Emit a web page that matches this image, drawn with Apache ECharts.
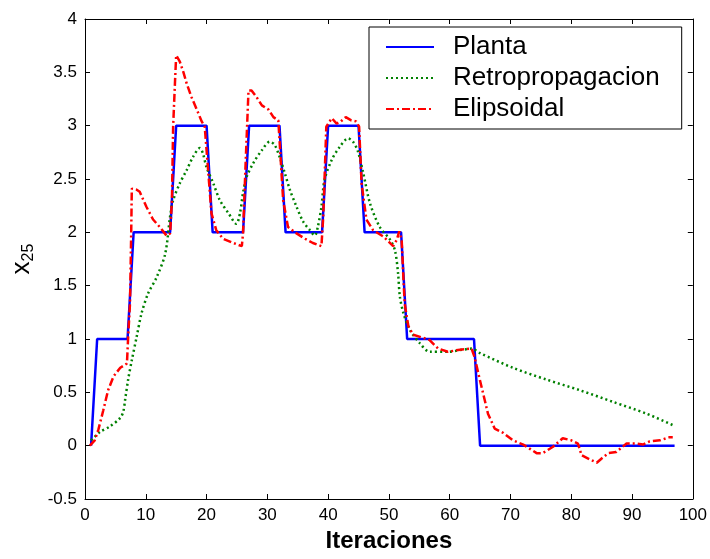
<!DOCTYPE html>
<html>
<head>
<meta charset="utf-8">
<script src="https://cdn.jsdelivr.net/npm/echarts@6/dist/echarts.min.js"></script>
<style>
  html, body { margin: 0; padding: 0; background: #fff; }
  #chart { width: 710px; height: 559px; }
</style>
</head>
<body>
<div id="chart"></div>
<script>
// x25 frente a iteraciones
const xTicks = [0, 10, 20, 30, 40, 50, 60, 70, 80, 90, 100];
const yTicks = [-0.5, 0, 0.5, 1, 1.5, 2, 2.5, 3, 3.5, 4];

// Planta: escalones [iteracion, valor]
const planta = [
  [1, 0], [2, 1], [7, 1], [8, 2], [14, 2], [15, 3], [20, 3], [21, 2],
  [26, 2], [27, 3], [32, 3], [33, 2], [39, 2], [40, 3], [45, 3], [46, 2],
  [52, 2], [53, 1], [64, 1], [65, 0], [97, 0]
];

// Retropropagacion
const retro = [
  [1.0, 0.05], [2.5, 0.13], [4.1, 0.18], [5.8, 0.26], [6.3, 0.32], [6.6, 0.43],
  [7.1, 0.62], [7.7, 0.80], [8.5, 1.02], [9.3, 1.24], [10.4, 1.43], [11.8, 1.58],
  [13.2, 1.80], [14.0, 2.15], [14.5, 2.30], [15.6, 2.46], [16.7, 2.58], [17.8, 2.71],
  [18.9, 2.79], [19.4, 2.74], [20.0, 2.61], [21.1, 2.46], [22.2, 2.30], [23.6, 2.18],
  [24.9, 2.08], [25.5, 2.18], [26.0, 2.37], [26.6, 2.52], [27.7, 2.65], [29.1, 2.77],
  [30.4, 2.85], [31.2, 2.82], [32.0, 2.71], [32.9, 2.55], [33.7, 2.40], [34.8, 2.24],
  [35.9, 2.10], [37.0, 2.02], [37.8, 1.97], [38.3, 2.05], [38.9, 2.24], [39.4, 2.49],
  [40.6, 2.68], [41.9, 2.80], [43.3, 2.88], [44.1, 2.85], [44.9, 2.76], [45.8, 2.55],
  [46.9, 2.27], [48.5, 2.05], [50.2, 1.93], [51.0, 1.83], [51.5, 1.62], [51.8, 1.40],
  [52.4, 1.24], [53.5, 1.08], [55.1, 0.96], [56.7, 0.88], [59.5, 0.88], [62.2, 0.90],
  [63.6, 0.91], [64.9, 0.87], [70.4, 0.73], [75.9, 0.62], [81.4, 0.52], [86.9, 0.41],
  [92.4, 0.30], [96.8, 0.19]
];

// Elipsoidal
const elipsoidal = [
  [0.8, 0.0], [1.6, 0.05], [2.2, 0.15], [3.0, 0.33], [3.8, 0.52], [4.7, 0.65],
  [5.8, 0.73], [6.9, 0.77], [7.1, 1.02], [7.4, 1.33], [7.6, 1.99], [7.7, 2.41],
  [8.5, 2.40], [9.0, 2.38], [10.1, 2.24], [11.2, 2.12], [12.3, 2.05], [13.4, 1.97],
  [14.0, 1.99], [14.3, 2.30], [14.5, 2.99], [14.8, 3.40], [15.0, 3.66], [15.6, 3.60],
  [16.2, 3.50], [16.7, 3.40], [17.5, 3.27], [18.4, 3.15], [19.2, 3.04], [19.7, 2.99],
  [20.0, 2.77], [20.3, 2.55], [20.8, 2.18], [21.6, 2.02], [22.7, 1.94], [24.4, 1.90],
  [25.8, 1.87], [26.0, 1.99], [26.4, 2.61], [26.9, 3.33], [27.4, 3.33], [28.2, 3.27],
  [29.1, 3.19], [30.2, 3.15], [31.0, 3.08], [31.8, 3.05], [32.0, 2.87], [32.6, 2.30],
  [33.4, 2.05], [34.8, 1.99], [36.2, 1.94], [37.5, 1.90], [38.9, 1.87], [39.2, 2.15],
  [39.7, 2.99], [40.6, 3.07], [41.4, 3.02], [42.1, 3.04], [42.9, 3.08], [43.8, 3.05],
  [44.6, 3.04], [45.1, 2.99], [45.5, 2.46], [46.3, 2.12], [47.4, 2.02], [49.1, 1.96],
  [50.7, 1.87], [51.3, 1.93], [51.7, 2.01], [52.1, 1.93], [52.4, 1.55], [52.6, 1.33],
  [53.2, 1.12], [54.0, 1.04], [55.7, 1.01], [56.7, 0.99], [58.1, 0.91], [59.7, 0.88],
  [61.7, 0.90], [63.6, 0.91], [64.1, 0.83], [64.7, 0.68], [65.5, 0.49], [66.3, 0.30],
  [67.4, 0.16], [68.8, 0.12], [70.4, 0.05], [72.1, 0.01], [74.3, -0.07], [75.3, -0.07],
  [77.0, -0.01], [78.6, 0.07], [80.0, 0.05], [81.1, 0.02], [81.7, -0.09], [83.1, -0.13],
  [84.2, -0.16], [85.0, -0.12], [86.1, -0.07], [87.4, -0.06], [89.1, 0.02], [90.7, 0.02],
  [91.8, 0.01], [92.9, 0.04], [94.6, 0.05], [96.2, 0.08], [96.7, 0.08]
];

const font = 'Liberation Sans, Arial, sans-serif';
const axisLine = { show: true, onZero: false, lineStyle: { color: '#000', width: 1 } };
const axisTick = { show: true, inside: true, length: 5, lineStyle: { color: '#000' } };

function xAxisOpt(position, showLabel) {
  return {
    type: 'value', position,
    min: xTicks[0], max: xTicks[xTicks.length - 1], interval: 10,
    axisLine, axisTick, splitLine: { show: false },
    axisLabel: { show: showLabel, color: '#000', fontSize: 17, fontFamily: font, margin: 8 }
  };
}
function yAxisOpt(position, showLabel) {
  return {
    type: 'value', position,
    min: yTicks[0], max: yTicks[yTicks.length - 1], interval: 0.5,
    axisLine, axisTick, splitLine: { show: false },
    axisLabel: { show: showLabel, color: '#000', fontSize: 17, fontFamily: font, margin: 8 }
  };
}

const chart = echarts.init(document.getElementById('chart'), null, { renderer: 'canvas' });

const xMain = xAxisOpt('bottom', true);
xMain.name = 'Iteraciones';
xMain.nameLocation = 'middle';
xMain.nameGap = 30;
xMain.nameTextStyle = { color: '#000', fontSize: 24, fontWeight: 'bold', fontFamily: font };

const yMain = yAxisOpt('left', true);
yMain.name = '{a|x}{b|25}';
yMain.nameLocation = 'middle';
yMain.nameGap = 45;
yMain.nameTextStyle = {
  rich: {
    a: { fontSize: 26, fontFamily: font, color: '#000' },
    b: { fontSize: 16, fontFamily: font, color: '#000', padding: [14, 0, 0, 0] }
  }
};

chart.setOption({
  backgroundColor: '#fff',
  animation: false,
  grid: { left: 85, right: 17, top: 19, bottom: 60, containLabel: false },
  xAxis: [xMain, xAxisOpt('top', false)],
  yAxis: [yMain, yAxisOpt('right', false)],
  legend: {
    left: 369, top: 27,
    orient: 'vertical',
    backgroundColor: '#fff',
    borderColor: '#000', borderWidth: 1, borderRadius: 0,
    padding: [5, 22, 5, 16],
    itemWidth: 48, itemHeight: 14, itemGap: 1,
    itemStyle: { opacity: 0 },
    textStyle: { color: '#000', fontSize: 26, fontFamily: font, lineHeight: 30, padding: [0, 0, 0, 14] },
    data: ['Planta', 'Retropropagacion', 'Elipsoidal']
  },
  series: [
    {
      name: 'Planta', type: 'line', data: planta,
      showSymbol: false, symbol: 'none',
      lineStyle: { color: '#0000ff', width: 2.5, type: 'solid' },
      itemStyle: { color: '#0000ff' }
    },
    {
      name: 'Retropropagacion', type: 'line', data: retro,
      showSymbol: false, symbol: 'none', smooth: 0.3,
      lineStyle: { color: '#008000', width: 2.5, type: [2, 3] },
      itemStyle: { color: '#008000' }
    },
    {
      name: 'Elipsoidal', type: 'line', data: elipsoidal,
      showSymbol: false, symbol: 'none',
      lineStyle: { color: '#ff0000', width: 2.5, type: [8, 3, 2, 3] },
      itemStyle: { color: '#ff0000' }
    }
  ]
});
</script>
</body>
</html>
